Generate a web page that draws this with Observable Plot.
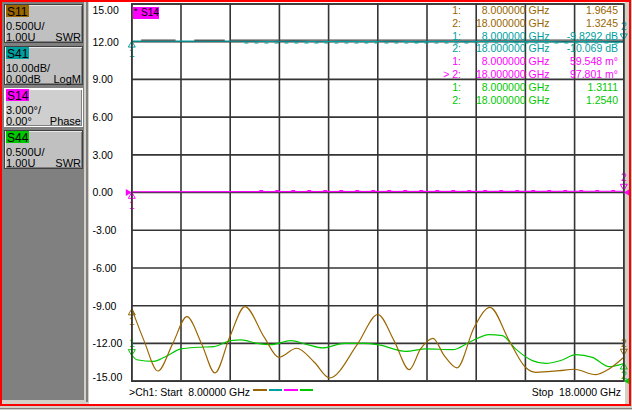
<!DOCTYPE html>
<html><head><meta charset="utf-8">
<script src="https://cdn.jsdelivr.net/npm/d3@7"></script>
<script src="https://cdn.jsdelivr.net/npm/@observablehq/plot@0.6"></script>
<style>
html,body{margin:0;padding:0;width:632px;height:412px;overflow:hidden;background:#d4d0c8;font-family:"Liberation Sans",Arial,sans-serif;}
#root{position:relative;width:632px;height:412px;}
#root div{position:absolute;white-space:pre;}
</style></head><body><div id="root"></div>
<script>
// ---------- data ----------
const freqGrid = [8, 9, 10, 11, 12, 13, 14, 15, 16, 17, 18];
const levelGrid = [15, 12, 9, 6, 3, 0, -3, -6, -9, -12, -15];

// S11 (SWR, shown in display units)
const s11Freq = [8.0, 8.25, 8.53, 8.83, 9.12, 9.42, 9.69, 9.99, 10.30, 10.69, 10.99, 11.35, 11.71, 12.02, 12.59, 13.0, 13.33, 13.64, 13.87, 14.12, 14.35, 14.61, 14.96, 15.28, 15.67, 16.0, 16.21, 16.69, 16.99, 17.43, 17.70, 18.0];
const s11Val  = [-9.25, -11.8, -14.2, -12.04, -9.87, -12.04, -14.35, -11.5, -9.07, -11.5, -13.11, -12.39, -13.5, -14.75, -12.04, -9.7, -11.78, -14.09, -12.44, -11.6, -12.97, -13.95, -10.72, -9.13, -11.78, -13.9, -14.3, -14.17, -14.06, -14.48, -14.03, -13.1];

// S41 (LogM)
const s41Freq = [8, 10.4, 10.8, 11.3, 11.8, 12.3, 12.8, 13.3, 13.8, 14.3, 14.8, 15.3, 15.8, 16.3, 16.8, 17.3, 17.8, 18];
const s41Val  = [12.05, 12.05, 12.02, 12.07, 12.0, 12.05, 12.01, 12.06, 11.99, 12.04, 12.0, 12.05, 11.99, 12.03, 11.98, 12.03, 11.97, 11.98];
const s41NoiseFreq = [10.3, 18];
const s41NoiseVal  = [11.9, 11.9];
const memStart = [8.2, 9.28, 10.0];
const memEnd   = [8.9, 9.9, 18.0];
const memVal   = [12.12, 12.12, 12.12];

// S14 (Phase)
const s14Freq = [8, 18];
const s14Val  = [0.06, 0.10];
const s14NoiseFreq = [10.6, 18];
const s14NoiseVal  = [0.16, 0.16];

// S44 (SWR)
const s44Freq = [8.0, 8.1, 8.45, 8.66, 9.0, 9.33, 9.67, 10.01, 10.22, 10.55, 10.83, 11.23, 11.57, 11.88, 12.32, 12.72, 13.0, 13.57, 13.98, 14.52, 14.86, 15.26, 15.53, 15.8, 16.14, 16.41, 16.75, 17.02, 17.36, 17.7, 18.0];
const s44Val  = [-12.9, -13.3, -13.43, -13.11, -12.44, -12.31, -12.26, -11.78, -11.72, -12.0, -12.1, -11.78, -12.1, -12.36, -12.0, -12.0, -12.1, -12.63, -12.44, -12.5, -11.91, -11.3, -11.38, -12.44, -13.37, -13.59, -13.32, -12.89, -13.11, -13.85, -13.6];

// reference level indicators
const refTrace = ["S14", "S14", "S44"];
const refFreq  = [8, 18, 18];
const refLevel = [0, 0, -15];

// left panel
const panelTraces = ["S11", "S41", "S14", "S44"];
const panelScale  = ["0.500U/", "10.00dB/", "3.000°/", "0.500U/"];
const panelRef    = ["1.00U", "0.00dB", "0.00°", "1.00U"];
const panelFormat = ["SWR", "LogM", "Phase", "SWR"];
const activeTrace = "S14";

// marker table
const mkTrace = ["S11", "S11", "S41", "S41", "S14", "S14", "S44", "S44"];
const mkLabel = ["1:", "2:", "1:", "2:", "1:", "> 2:", "1:", "2:"];
const mkFreq  = ["8.000000 GHz", "18.000000 GHz", "8.000000 GHz", "18.000000 GHz", "8.000000 GHz", "18.000000 GHz", "8.000000 GHz", "18.000000 GHz"];
const mkValue = ["1.9645", "1.3245", "-9.8292 dB", "-10.069 dB", "59.548 m°", "97.801 m°", "1.3111", "1.2540"];

const startText = ">Ch1: Start  8.00000 GHz";
const stopText  = "Stop  18.0000 GHz";

// ---------- styles ----------
const C = {S11: "#996600", S41: "#00a0a0", S14: "#ff00ff", S44: "#00c800"};
const GRID = "#353535";
const FONT = '"Liberation Sans", Arial, sans-serif';

const root = document.getElementById("root");
function div(l, t, w, h, css, text) {
  const d = document.createElement("div");
  d.style.left = l + "px"; d.style.top = t + "px";
  if (w != null) d.style.width = w + "px";
  if (h != null) d.style.height = h + "px";
  if (css) d.style.cssText += css;
  if (text != null) d.textContent = text;
  root.appendChild(d);
  return d;
}

// background panels
div(2, 2, 82, 398, "background:#808080;");
div(85.5, 2, 2, 400, "background:#808080;");
div(89, 2, 536, 401.5, "background:#ffffff;");
div(0, 408, 632, 1, "background:#808080;");
div(0, 410, 632, 2, "background:#ffffff;");

// left panel buttons
panelTraces.forEach((t, i) => {
  const off = 42 * i;
  const active = t === activeTrace;
  div(4, 4 + off, 79, 39, "box-sizing:border-box;background:" + (active ? "#cfcfcf" : "#c0c0c0") + ";border:1px solid " + (active ? "#ffffff" : "#404040") + ";box-shadow:" + (active ? "inset 1px 1px 0 #ffffff, inset -1px -1px 0 #808080" : "inset 1px 1px 0 #e8e8e8, inset -1px -1px 0 #808080") + ";");
  div(6, 5 + off, 23, 12, "background:" + C[t] + ";");
  div(7, 6.2 + off, null, null, "font:12px/12px " + FONT + ";color:#000;", t);
  div(6, 20.6 + off, null, null, "font:11px/11px " + FONT + ";color:#000;", panelScale[i]);
  div(6, 31.6 + off, null, null, "font:11px/11px " + FONT + ";color:#000;", panelRef[i]);
  div(30, 31.6 + off, 51, null, "font:11px/11px " + FONT + ";color:#000;text-align:right;", panelFormat[i]);
});

// ---------- plot ----------
const sq3 = Math.sqrt(3);
const triUp = {draw(ctx, size) { const y = -Math.sqrt(size / (sq3 * 3)); ctx.moveTo(0, y * 2); ctx.lineTo(-sq3 * y, -y); ctx.lineTo(sq3 * y, -y); ctx.closePath(); }};
const triDown = {draw(ctx, size) { const y = Math.sqrt(size / (sq3 * 3)); ctx.moveTo(0, y * 2); ctx.lineTo(-sq3 * y, -y); ctx.lineTo(sq3 * y, -y); ctx.closePath(); }};
const arrowRight = {draw(ctx) { ctx.moveTo(0, 0); ctx.lineTo(-6, -3.5); ctx.lineTo(-6, 3.5); ctx.closePath(); }};
const arrowLeft = {draw(ctx) { ctx.moveTo(0, 0); ctx.lineTo(6, -3.5); ctx.lineTo(6, 3.5); ctx.closePath(); }};

const rows = (fs, vs) => fs.map((f, i) => ({f, v: vs[i]}));
const traces = {
  S11: {f: s11Freq, v: s11Val},
  S41: {f: s41Freq, v: s41Val},
  S14: {f: s14Freq, v: s14Val},
  S44: {f: s44Freq, v: s44Val}
};
const markerStyle = {
  S11: {s: triUp, sTri: 4, sTxt: 13, e: triDown, eTri: -6, eTxt: -14},
  S41: {s: triUp, sTri: 4, sTxt: 13, e: triDown, eTri: -6, eTxt: -15},
  S14: {s: triUp, sTri: 4.5, sTxt: 14, e: triDown, eTri: -5, eTxt: -13.5},
  S44: {s: triDown, sTri: -3, sTxt: -11, e: triUp, eTri: 3.5, eTxt: 12}
};

const marks = [
  Plot.ruleX(freqGrid, {x: d => d, stroke: GRID, strokeWidth: 1.6}),
  Plot.ruleY(levelGrid, {y: d => d, stroke: GRID, strokeWidth: 1.6}),
  Plot.text(levelGrid.filter(v => v !== 15 && v !== -15), {y: d => d, text: d => d.toFixed(2), frameAnchor: "left", textAnchor: "start", dx: -39.3, dy: 0.5, fill: "#000"}),
  Plot.text(levelGrid.filter(v => v === 15), {y: d => d, text: d => d.toFixed(2), frameAnchor: "left", textAnchor: "start", dx: -39.3, dy: 6.5, fill: "#000"}),
  Plot.text(levelGrid.filter(v => v === -15), {y: d => d, text: d => d.toFixed(2), frameAnchor: "left", textAnchor: "start", dx: -39.3, dy: -3.5, fill: "#000"}),
];
for (const t of ["S41", "S14", "S44", "S11"]) {
  marks.push(Plot.line(rows(traces[t].f, traces[t].v), {x: "f", y: "v", stroke: C[t], strokeWidth: 1.15, curve: t === "S11" || t === "S44" ? "monotone-x" : "linear"}));
}
// memory / noise overlays
marks.push(Plot.ruleY(memStart.map((s, i) => ({x1: s, x2: memEnd[i], y: memVal[i], k: i})), {x1: "x1", x2: "x2", y: "y", stroke: "#4a4a4a", strokeWidth: 1.3, strokeDasharray: d => d.k === 2 ? "3,13" : null}));
marks.push(Plot.line(rows(s41NoiseFreq, s41NoiseVal), {x: "f", y: "v", stroke: C.S41, strokeWidth: 1.1, strokeDasharray: "3,7"}));
marks.push(Plot.line(rows(s14NoiseFreq, s14NoiseVal), {x: "f", y: "v", stroke: C.S14, strokeWidth: 1, strokeDasharray: "3,13"}));

for (const t of ["S11", "S41", "S14", "S44"]) {
  const tr = traces[t], st = markerStyle[t], n = tr.f.length - 1;
  const first = [{f: tr.f[0], v: tr.v[0]}], last = [{f: tr.f[n], v: tr.v[n]}];
  marks.push(Plot.dot(first, {x: "f", y: "v", symbol: st.s, r: 2.6, stroke: C[t], fill: "none", strokeWidth: 1, dy: st.sTri}));
  marks.push(Plot.text(first, {x: "f", y: "v", text: () => "1", fill: C[t], dy: st.sTxt}));
  marks.push(Plot.dot(last, {x: "f", y: "v", symbol: st.e, r: 2.6, stroke: C[t], fill: "none", strokeWidth: 1, dy: st.eTri}));
  marks.push(Plot.text(last, {x: "f", y: "v", text: () => "2", fill: C[t], dy: st.eTxt}));
}
const refRows = refTrace.map((t, i) => ({t, f: refFreq[i], v: refLevel[i]}));
marks.push(Plot.dot(refRows.filter(d => d.f === 8), {x: "f", y: "v", symbol: arrowRight, fill: d => C[d.t], stroke: "none"}));
marks.push(Plot.dot(refRows.filter(d => d.f === 18), {x: "f", y: "v", symbol: arrowLeft, fill: d => C[d.t], stroke: "none"}));
marks.push(Plot.frame({stroke: GRID, strokeWidth: 1.6}));

const svg = Plot.plot({
  width: 546, height: 398,
  marginLeft: 45.3, marginRight: 8.7, marginTop: 3.5, marginBottom: 17.4,
  x: {domain: [8, 18], axis: null},
  y: {domain: [-15, 15], axis: null},
  style: {background: "transparent", fontFamily: FONT, fontSize: "10.5px", overflow: "visible", color: "#000"},
  marks
});
svg.style.position = "absolute";
svg.style.left = "86px";
svg.style.top = "0px";
root.appendChild(svg);

// active trace label
div(132.7, 6.7, 26.3, 12.6, "background:" + C.S14 + ";");
div(134, 7, null, null, "font:9px/9px " + FONT + ";color:#000;", "*");
div(141, 8.2, null, null, "font:10px/10px " + FONT + ";color:#000;", "S14");

// marker table
mkTrace.forEach((t, i) => {
  const top = 10 + 12.8 * i - 5.1;
  const css = "font:10.5px/10.5px " + FONT + ";color:" + C[t] + ";text-align:right;";
  div(421, top, 40, null, css, mkLabel[i]);
  div(460, top, 89.5, null, css, mkFreq[i]);
  div(548, top, 70, null, css, mkValue[i]);
});

// bottom status
div(129, 386.9, null, null, "font:10.5px/10.5px " + FONT + ";color:#000;", startText);
div(500, 386.9, 121, null, "font:10.5px/10.5px " + FONT + ";color:#000;text-align:right;", stopText);
["S11", "S41", "S14", "S44"].forEach((t, i) => {
  div(253 + 15.5 * i, 389.4, 13.5, 2, "background:" + C[t] + ";");
});

// red frame
div(0, 0, 631, 406, "box-sizing:border-box;border:2px solid #ff0000;");
</script>
</body></html>
